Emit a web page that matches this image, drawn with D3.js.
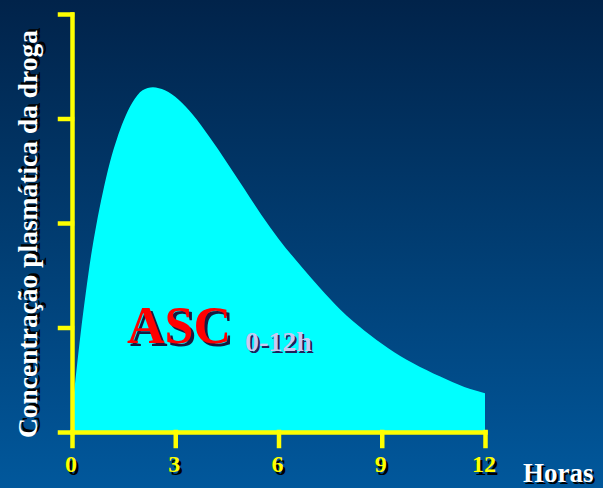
<!DOCTYPE html>
<html>
<head>
<meta charset="utf-8">
<script src="https://cdn.jsdelivr.net/npm/d3@7"></script>
<style>
  html, body { margin: 0; padding: 0; background: #013a6e; }
  svg { display: block; }
  text { font-family: "Liberation Serif", "Times New Roman", serif; font-weight: bold; }
</style>
</head>
<body>
<script>
// hours after the dose
var hours = [0, 0.1, 0.25, 0.4, 0.55, 0.7, 0.9, 1.1, 1.3, 1.5, 1.75, 2.05, 2.35, 2.7, 3.1, 3.5,
	4, 4.5, 5, 5.5, 6, 6.7, 7.2, 7.8, 8.5, 9.2, 9.9, 10.7, 11.4, 12];
// plasma concentration (arbitrary units, ticks every 1)
var concentration = [0.2, 0.5, 0.94, 1.33, 1.68, 1.97, 2.3, 2.58, 2.8, 2.98, 3.15, 3.27, 3.3, 3.27, 3.18, 3.04,
	2.82, 2.58, 2.33, 2.08, 1.85, 1.57, 1.38, 1.17, 0.97, 0.8, 0.66, 0.53, 0.43, 0.37];
var xTicks = [0, 3, 6, 9, 12];
var yTicks = [0, 1, 2, 3, 4];

var width = 603, height = 488;
var margin = {top: 14, right: 118, bottom: 56, left: 72};

var svg = d3.select("body").append("svg")
	.attr("width", width)
	.attr("height", height);

// background gradient
var grad = svg.append("defs").append("linearGradient")
	.attr("id", "bg")
	.attr("x1", 0).attr("y1", 0).attr("x2", 0).attr("y2", 1);
grad.append("stop").attr("offset", "0%").attr("stop-color", "#01234a");
grad.append("stop").attr("offset", "50%").attr("stop-color", "#013d72");
grad.append("stop").attr("offset", "100%").attr("stop-color", "#01589c");
svg.append("rect").attr("width", width).attr("height", height).attr("fill", "url(#bg)");

var x = d3.scaleLinear().domain([0, 12]).range([margin.left, width - margin.right]);
var y = d3.scaleLinear().domain([0, 4]).range([height - margin.bottom, margin.top]);

var points = hours.map(function(h, i){ return {t: h, v: concentration[i]}; });

// area under the curve
var area = d3.area()
	.x(function(d){ return x(d.t); })
	.y0(y(0))
	.y1(function(d){ return y(d.v); })
	.curve(d3.curveMonotoneX);

svg.append("path")
	.datum(points)
	.attr("fill", "#00ffff")
	.attr("d", area);

// axes
var yAxis = svg.append("g")
	.attr("transform", "translate(" + margin.left + ",0)")
	.call(d3.axisLeft(y).tickValues(yTicks).tickSize(12).tickSizeOuter(0).tickFormat(""));

var xAxis = svg.append("g")
	.attr("transform", "translate(0," + y(0) + ")")
	.call(d3.axisBottom(x).tickValues(xTicks).tickSize(14).tickSizeOuter(0).tickFormat(""));

svg.selectAll(".domain, .tick line")
	.attr("stroke", "#ffff00")
	.attr("stroke-width", 4.5)
	.attr("stroke-linecap", "square");

// text with a dark drop shadow
function shadowText(sel, opts){
	var g = sel.append("g").attr("transform", opts.transform || null);
	g.append("text")
		.attr("x", opts.x + (opts.dx || 2.5))
		.attr("y", opts.y + (opts.dy || 2.5))
		.attr("text-anchor", opts.anchor || "start")
		.attr("font-size", opts.size)
		.attr("fill", opts.shadow || "#000")
		.text(opts.text);
	g.append("text")
		.attr("x", opts.x)
		.attr("y", opts.y)
		.attr("text-anchor", opts.anchor || "start")
		.attr("font-size", opts.size)
		.attr("fill", opts.fill)
		.text(opts.text);
	return g;
}

xTicks.forEach(function(t){
	shadowText(svg, {x: x(t) - 1, y: 472, text: String(t), size: 24, fill: "#ffff00", anchor: "middle"});
});

shadowText(svg, {x: 523, y: 482, text: "Horas", size: 27, fill: "#ffffff", dx: 2, dy: 2});

shadowText(svg, {
	x: -234, y: 37, text: "Concentração plasmática da droga", size: 27.5, fill: "#ffffff",
	anchor: "middle", transform: "rotate(-90)", dx: 2.5, dy: 2.5
});

shadowText(svg, {x: 127, y: 343, text: "ASC", size: 52, fill: "#ff0000", shadow: "#1a1a40", dx: 3, dy: 3});
shadowText(svg, {x: 245, y: 351, text: "0-12h", size: 28, fill: "#c8c8f2", shadow: "#20205a", dx: 2, dy: 2});
</script>
</body>
</html>
